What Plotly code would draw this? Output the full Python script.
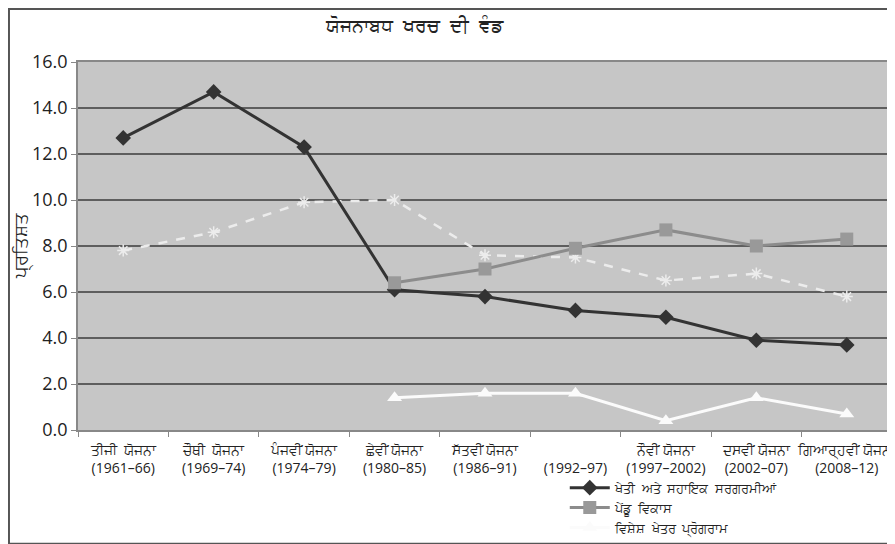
import plotly.graph_objects as go

categories = [
    "ਤੀਜੀ  ਯੋਜਨਾ<br>(1961–66)",
    "ਚੌਥੀ  ਯੋਜਨਾ<br>(1969–74)",
    "ਪੰਜਵੀਂ ਯੋਜਨਾ<br>(1974–79)",
    "ਛੇਵੀਂ ਯੋਜਨਾ<br>(1980–85)",
    "ਸੱਤਵੀਂ ਯੋਜਨਾ<br>(1986–91)",
    " <br>(1992–97)",
    "ਨੌਵੀਂ ਯੋਜਨਾ<br>(1997–2002)",
    "ਦਸਵੀਂ ਯੋਜਨਾ<br>(2002–07)",
    "ਗਿਆਰ੍ਹਵੀਂ ਯੋਜਨਾ<br>(2008–12)",
]
agri = [12.7, 14.7, 12.3, 6.1, 5.8, 5.2, 4.9, 3.9, 3.7]
rural = [None, None, None, 6.4, 7.0, 7.9, 8.7, 8.0, 8.3]
irrigation = [7.8, 8.6, 9.9, 10.0, 7.6, 7.5, 6.5, 6.8, 5.8]
special = [None, None, None, 1.4, 1.6, 1.6, 0.4, 1.4, 0.7]
y_ticks = [0, 2, 4, 6, 8, 10, 12, 14, 16]

FONT = "Open Sans, Noto Sans, sans-serif"

fig = go.Figure()
fig.add_trace(go.Scatter(
    x=categories, y=irrigation, mode="lines+markers", name="ਸਿੰਚਾਈ",
    showlegend=False,
    line=dict(color="#ececec", width=2.5, dash="dash"),
    marker=dict(symbol="asterisk-open", size=10, line=dict(color="#f2f2f2", width=1.5)),
))
fig.add_trace(go.Scatter(
    x=categories, y=agri, mode="lines+markers", name="ਖੇਤੀ  ਅਤੇ  ਸਹਾਇਕ  ਸਰਗਰਮੀਆਂ",
    line=dict(color="#333333", width=3),
    marker=dict(symbol="diamond", size=12, color="#333333"),
))
fig.add_trace(go.Scatter(
    x=categories, y=rural, mode="lines+markers", name="ਪੇਂਡੂ  ਵਿਕਾਸ",
    line=dict(color="#8c8c8c", width=3),
    marker=dict(symbol="square", size=13, color="#999999"),
))
fig.add_trace(go.Scatter(
    x=categories, y=special, mode="lines+markers", name="ਵਿਸ਼ੇਸ਼  ਖੇਤਰ  ਪ੍ਰੋਗਰਾਮ",
    line=dict(color="#fbfbfb", width=3),
    marker=dict(symbol="triangle-up", size=13, color="#fbfbfb"),
))

fig.update_layout(
    width=887, height=536,
    margin=dict(l=70, r=3, t=54, b=114, autoexpand=False),
    paper_bgcolor="white",
    plot_bgcolor="#c6c6c6",
    font=dict(family=FONT, size=15, color="#222222"),
    title=dict(text="ਯੋਜਨਾਬਧ  ਖਰਚ  ਦੀ  ਵੰਡ", x=0.458, xanchor="center", y=0.967, yanchor="middle",
               font=dict(size=19, color="#222222")),
    xaxis=dict(
        type="category", tickson="boundaries", ticks="outside", ticklen=5,
        tickcolor="#888888", showgrid=False, showline=True, linecolor="#888888",
        linewidth=1.5, mirror=True, tickfont=dict(size=14), tickangle=0,
        ticklabelstandoff=6,
        automargin=False, range=[-0.5, 8.5],
    ),
    yaxis=dict(
        range=[0, 16], tickvals=y_ticks, ticktext=[f"{v:.1f}" for v in y_ticks],
        ticks="outside", ticklen=5, tickcolor="#888888",
        showgrid=True, gridcolor="#5e5e5e", gridwidth=1.5,
        showline=True, linecolor="#888888", linewidth=1.5, mirror=True,
        zeroline=False, tickfont=dict(size=18), automargin=False,
        title=dict(text="ਪ੍ਰਤਿਸ਼ਤ", standoff=2, font=dict(size=18)),
    ),
    legend=dict(x=0.598, y=-0.116, xanchor="left", yanchor="top",
                bgcolor="rgba(0,0,0,0)", font=dict(size=13), tracegroupgap=0,
                itemwidth=40),
    shapes=[dict(type="rect", xref="paper", yref="paper",
                 x0=-0.0848, x1=1.0012, y0=-0.309, y1=1.144,
                 line=dict(color="#555555", width=2), layer="below")],
)

fig.write_html("out.html")
